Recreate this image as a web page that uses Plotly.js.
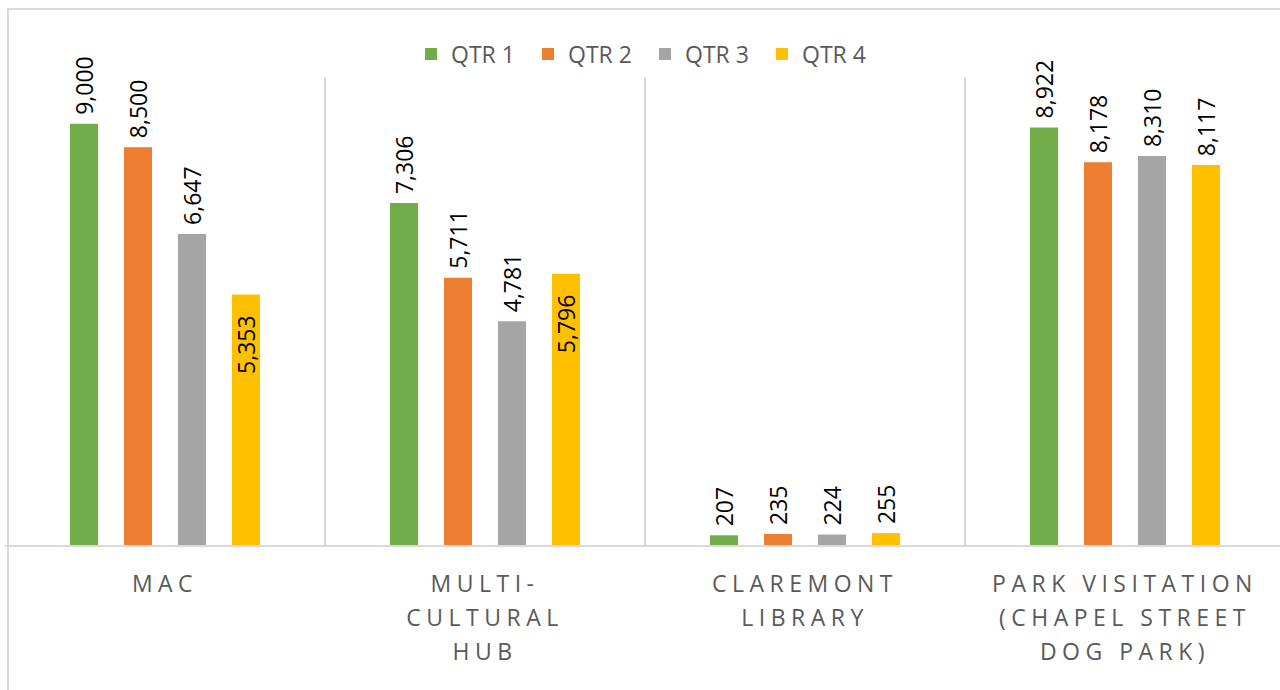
<!DOCTYPE html>
<html>
<head>
<meta charset="utf-8">
<script src="https://cdn.plot.ly/plotly-3.0.1.min.js"></script>
<style>
  html, body { margin: 0; padding: 0; background: #fff; overflow: hidden; }
  #chart { position: absolute; left: 0; top: 0; width: 1300px; height: 690px; }
  #frame { position: absolute; left: 7px; top: 8px; width: 1400px; height: 900px;
           border: 2px solid #d9d9d9; pointer-events: none; }
  .xtick text { letter-spacing: 5.5px; }
</style>
</head>
<body>
<div id="chart"></div>
<div id="frame"></div>
<script>
const categories = ["MAC", "MULTI-<br>CULTURAL<br>HUB", "CLAREMONT<br>LIBRARY", "PARK VISITATION<br>(CHAPEL STREET<br>DOG PARK)"];
const seriesNames = ["QTR 1", "QTR 2", "QTR 3", "QTR 4"];
const qtr1 = [9000, 7306, 207, 8922];
const qtr2 = [8500, 5711, 235, 8178];
const qtr3 = [6647, 4781, 224, 8310];
const qtr4 = [5353, 5796, 255, 8117];
const colors = ["#70AD47", "#ED7D31", "#A5A5A5", "#FFC000"];
const positions = [
  ["outside", "outside", "outside", "outside"],
  ["outside", "outside", "outside", "outside"],
  ["outside", "outside", "outside", "outside"],
  ["inside", "inside", "outside", "outside"]
];

const xIdx = categories.map((c, i) => i);
const allSeries = [qtr1, qtr2, qtr3, qtr4];
const NB = "\u00a0";

const traces = allSeries.map((vals, k) => ({
  type: "bar",
  name: seriesNames[k],
  x: xIdx,
  y: vals,
  marker: { color: colors[k] },
  text: vals.map((v, i) => {
    const s = v.toLocaleString("en-US");
    return positions[k][i] === "inside" ? s + NB + NB + NB : NB + s;
  }),
  texttemplate: "%{text}",
  textposition: positions[k],
  insidetextanchor: "end",
  textangle: -90,
  textfont: { family: "Open Sans, sans-serif", size: 23, color: "#000" },
  constraintext: "none",
  cliponaxis: false,
  hoverinfo: "skip"
}));

const layout = {
  width: 1300,
  height: 690,
  margin: { l: 5, r: 15, t: 77, b: 145 },
  paper_bgcolor: "#fff",
  plot_bgcolor: "#fff",
  barmode: "group",
  bargap: 0.325,
  bargroupgap: 0.48,
  showlegend: true,
  legend: {
    orientation: "h",
    x: 0.5, xanchor: "center",
    y: 1.049, yanchor: "middle",
    font: { family: "Open Sans, sans-serif", size: 23, color: "#595959" },
    traceorder: "normal",
    entrywidth: 72,
    itemclick: false
  },
  xaxis: {
    type: "linear",
    range: [-0.5, 3.5],
    tickvals: xIdx,
    ticktext: categories,
    ticks: "",
    showgrid: false,
    zeroline: false,
    showline: true,
    linecolor: "#d9d9d9",
    linewidth: 2,
    ticklabelstandoff: 17,
    tickfont: { family: "Open Sans, sans-serif", size: 23, color: "#595959" },
    minor: { tickvals: [0.5, 1.5, 2.5], showgrid: true, gridcolor: "#d9d9d9", gridwidth: 2, ticks: "" },
    fixedrange: true
  },
  yaxis: {
    range: [0, 10000],
    showgrid: false,
    zeroline: false,
    showticklabels: false,
    ticks: "",
    showline: false,
    fixedrange: true
  }
};

Plotly.newPlot("chart", traces, layout, { displayModeBar: false, staticPlot: true }).then(gd => {
  // widen the line spacing of the multi-line category labels
  gd.querySelectorAll(".xtick text tspan.line").forEach(t => {
    const dy = parseFloat(t.getAttribute("dy") || "0");
    if (dy) t.setAttribute("dy", (dy / 1.3 * 1.48) + "em");
  });
});
</script>
</body>
</html>
